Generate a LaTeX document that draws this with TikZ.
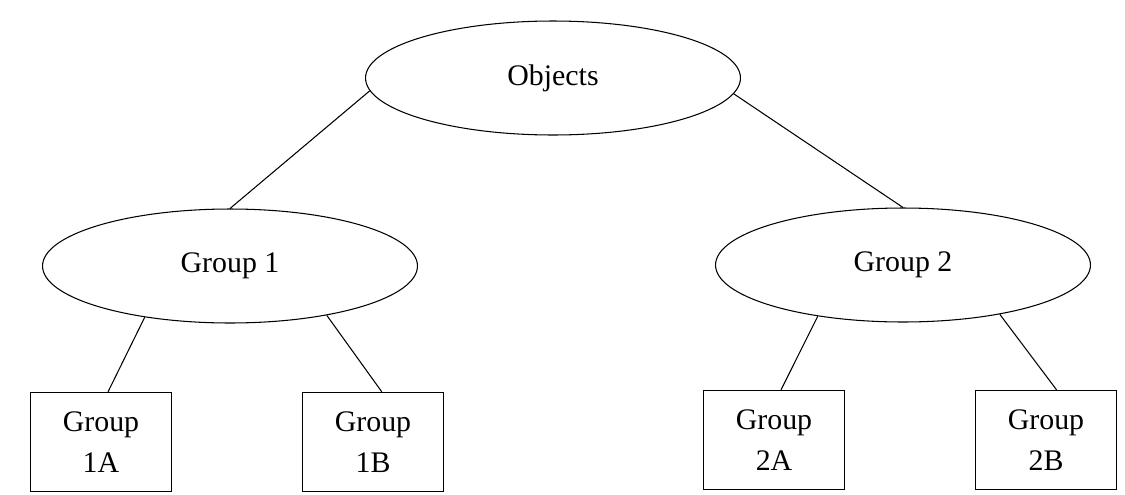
\documentclass[tikz,border=0pt]{standalone}
\usepackage{fontspec}
\setmainfont{Liberation Serif}
\usetikzlibrary{shapes.geometric}

\begin{document}
\begin{tikzpicture}[x=0.02cm, y=-0.02cm,
    every node/.style={font=\fontsize{17}{23}\selectfont},
    grp/.style={draw, ellipse, line width=0.6pt, inner sep=0pt, minimum width=7.5cm, minimum height=2.28cm},
    leaf/.style={draw, rectangle, line width=0.8pt, align=center, minimum width=2.82cm, minimum height=1.98cm}]
  \useasboundingbox (0,0) rectangle (1125,494);
  \node[grp] (obj) at (553,78) {Objects};
  \node[grp] (g1) at (230,266) {Group 1};
  \node[grp] (g2) at (903,265) {Group 2};
  \node[leaf] (g1a) at (101,442) {Group\\1A};
  \node[leaf] (g1b) at (373,442) {Group\\1B};
  \node[leaf] (g2a) at (774,440) {Group\\2A};
  \node[leaf] (g2b) at (1046,440) {Group\\2B};
  % Draw the tree edges
  \draw[line width=0.6pt] (obj.184) -- (g1.north);
  \draw[line width=0.6pt] (obj.355) -- (g2.north);
  \draw[line width=0.6pt] (g1.211) -- ([xshift=4]g1a.north);
  \draw[line width=0.6pt] (g1.333) -- ([xshift=5]g1b.north);
  \draw[line width=0.6pt] (g2.211) -- ([xshift=4]g2a.north);
  \draw[line width=0.6pt] (g2.333) -- ([xshift=6]g2b.north);
\end{tikzpicture}
\end{document}
